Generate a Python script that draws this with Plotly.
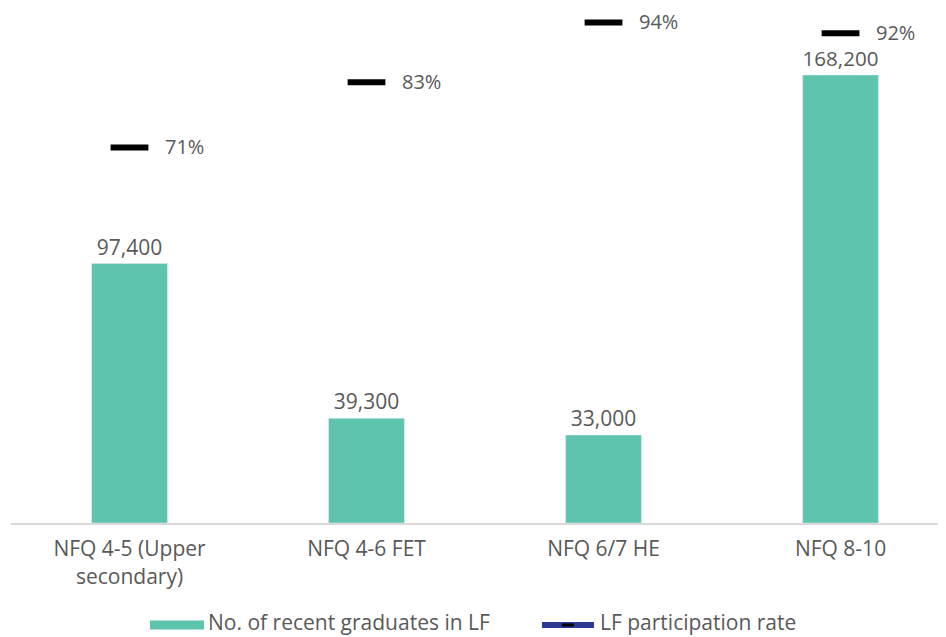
import plotly.graph_objects as go

categories = ["NFQ 4-5 (Upper<br>secondary)", "NFQ 4-6 FET", "NFQ 6/7 HE", "NFQ 8-10"]
graduates = [97400, 39300, 33000, 168200]
participation = [0.71, 0.83, 0.94, 0.92]
series_names = ["No. of recent graduates in LF", "LF participation rate"]

grad_labels = [f"{v:,}" for v in graduates]
part_labels = [f"{round(v*100)}%" for v in participation]

TEXT = "#595959"
FONT = "'Open Sans', Lato, sans-serif"
TEAL = "#5ec4ad"
NAVY = "#2b3990"
FS = 21

fig = go.Figure()
fig.add_trace(go.Bar(
    x=categories, y=graduates, name=series_names[0],
    marker=dict(color=TEAL), width=0.32,
    text=grad_labels, textposition="outside", cliponaxis=False,
    textfont=dict(size=FS, color=TEXT, family=FONT),
    showlegend=False,
))
fig.add_trace(go.Scatter(
    x=categories, y=participation, yaxis="y2", mode="markers",
    marker=dict(symbol="line-ew", size=27, line=dict(width=6, color="black"), color="black"),
    cliponaxis=False, showlegend=False, name=series_names[1],
))

for c, v, t in zip(categories, participation, part_labels):
    fig.add_annotation(x=c, y=v, yref="y2", text=t, showarrow=False,
                       xanchor="left", xshift=33, yshift=1,
                       font=dict(size=20, color=TEXT, family=FONT))

# custom legend (paper coordinates)
LY = -0.1988
TY = -0.1930
fig.add_shape(type="rect", xref="paper", yref="paper", x0=0.1487, x1=0.2064,
              y0=LY - 0.0088, y1=LY + 0.0088, fillcolor=TEAL, line=dict(width=0))
fig.add_annotation(xref="paper", yref="paper", x=0.2096, y=TY, text=series_names[0],
                   showarrow=False, xanchor="left", yanchor="middle", borderpad=0,
                   font=dict(size=FS, color=TEXT, family=FONT))
fig.add_shape(type="line", xref="paper", yref="paper", x0=0.5679, x1=0.6235,
              y0=LY, y1=LY, line=dict(color=NAVY, width=6))
fig.add_shape(type="line", xref="paper", yref="paper", x0=0.5893, x1=0.6021,
              y0=LY, y1=LY, line=dict(color="black", width=3))
fig.add_annotation(xref="paper", yref="paper", x=0.6289, y=TY, text=series_names[1],
                   showarrow=False, xanchor="left", yanchor="middle", borderpad=0,
                   font=dict(size=FS, color=TEXT, family=FONT))

fig.update_layout(
    width=946, height=637,
    margin=dict(l=3, r=8, t=2, b=122, autoexpand=False),
    plot_bgcolor="white", paper_bgcolor="white",
    font=dict(family=FONT, size=FS, color=TEXT),
    showlegend=False,
    xaxis=dict(range=[-0.5, 3.445], showline=True, linecolor="#d9d9d9", linewidth=2,
               ticks="", showgrid=False, ticklabelstandoff=6,
               tickfont=dict(size=FS, color=TEXT)),
    yaxis=dict(range=[0, 192600], visible=False, showgrid=False),
    yaxis2=dict(range=[0.0184, 0.963], overlaying="y", side="right", visible=False, showgrid=False),
)

fig.write_html("out.html")
